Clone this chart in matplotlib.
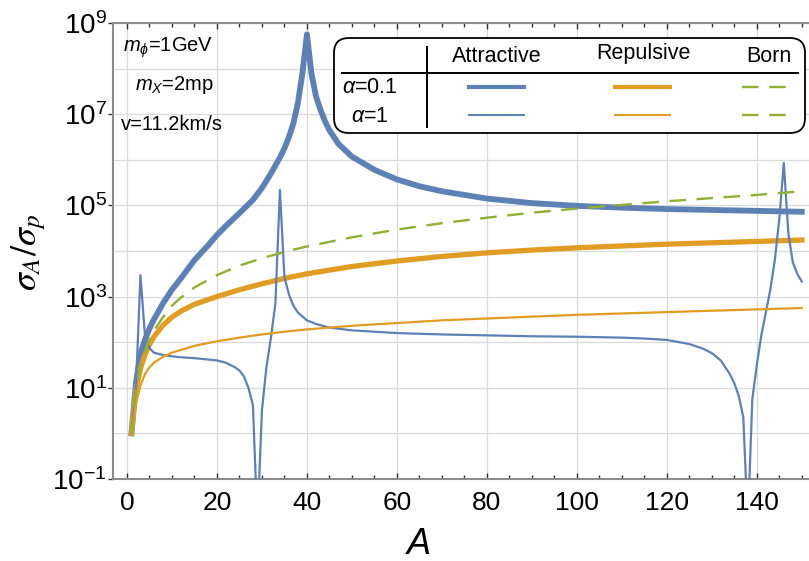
import numpy as np
import matplotlib
matplotlib.use('Agg')
import matplotlib.pyplot as plt
from matplotlib.lines import Line2D
from matplotlib.patches import FancyBboxPatch
from matplotlib.ticker import FixedLocator, MultipleLocator, NullLocator, FuncFormatter

plt.rcParams['font.family'] = ['Liberation Sans', 'DejaVu Sans']
plt.rcParams['mathtext.fontset'] = 'custom'
plt.rcParams['mathtext.rm'] = 'Liberation Sans'
plt.rcParams['mathtext.it'] = 'Liberation Sans:italic'
plt.rcParams['mathtext.bf'] = 'Liberation Sans:bold'

# --- datos (log10 de sigma_A/sigma_p) ---
A_att01 = [1, 2, 3, 4, 5, 6, 8, 10, 12, 15, 18, 20, 22, 25, 28, 30, 32, 34, 35, 36, 37, 38, 39,
           40, 41, 42, 43, 44, 45, 47, 50, 55, 60, 65, 70, 80, 90, 100, 110, 120, 130, 140, 150]
log_att01 = [0, 1.1, 1.75, 2.05, 2.3, 2.5, 2.85, 3.15, 3.4, 3.8, 4.12, 4.35, 4.55, 4.83, 5.12, 5.38,
             5.7, 6.05, 6.25, 6.5, 6.8, 7.25, 7.9, 8.75, 7.9, 7.4, 7.1, 6.85, 6.65, 6.35, 6.07,
             5.78, 5.57, 5.42, 5.31, 5.15, 5.05, 4.99, 4.95, 4.92, 4.9, 4.88, 4.86]

A_rep = [1, 2, 3, 4, 5, 6, 8, 10, 12, 15, 20, 25, 30, 35, 40, 50, 60, 70, 80, 90, 100, 110, 120,
         130, 140, 150]
log_rep01 = [0, 0.95, 1.42, 1.72, 1.95, 2.12, 2.37, 2.55, 2.68, 2.83, 3.0, 3.15, 3.28, 3.4, 3.5,
             3.66, 3.78, 3.88, 3.96, 4.02, 4.07, 4.11, 4.15, 4.18, 4.21, 4.24]
log_rep1 = [0, 0.65, 1.05, 1.3, 1.45, 1.55, 1.68, 1.77, 1.83, 1.92, 2.02, 2.1, 2.17, 2.23, 2.28,
            2.36, 2.42, 2.48, 2.52, 2.56, 2.6, 2.63, 2.66, 2.69, 2.72, 2.75]

A_born = [1, 2, 3, 4, 5, 6, 8, 10, 12, 15, 20, 25, 30, 35, 40, 50, 60, 70, 80, 90, 100, 110, 120,
          130, 140, 150]
log_born = [0, 0.95, 1.47, 1.8, 2.05, 2.25, 2.55, 2.8, 2.98, 3.2, 3.47, 3.68, 3.84, 3.98, 4.1, 4.3,
            4.47, 4.61, 4.73, 4.84, 4.93, 5.01, 5.09, 5.16, 5.23, 5.31]

A_att1 = [1, 2, 3, 4, 5, 6, 8, 10, 12, 15, 18, 20, 22, 24, 25, 26, 27, 28, 29, 30, 31, 32, 33, 34,
          35, 36, 37, 38, 40, 42, 45, 50, 60, 70, 80, 90, 100, 110, 115, 120, 125, 128, 130, 132,
          134, 135, 136, 137, 138, 139, 140, 141, 142, 143, 144, 145, 146, 147, 148, 149, 150]
log_att1 = [0, 1.0, 3.47, 2.15, 1.87, 1.77, 1.72, 1.69, 1.67, 1.65, 1.62, 1.6, 1.55, 1.45, 1.38,
            1.25, 1.0, 0.62, -2.0, 0.5, 1.45, 2.1, 2.85, 5.34, 3.43, 3.05, 2.8, 2.65, 2.48, 2.4,
            2.32, 2.26, 2.2, 2.17, 2.15, 2.13, 2.12, 2.1, 2.08, 2.05, 1.96, 1.86, 1.76, 1.6, 1.3,
            1.1, 0.82, 0.35, -2.0, 0.75, 1.5, 2.15, 2.65, 3.15, 3.8, 4.7, 5.93, 4.4, 3.75, 3.5, 3.33]

x_ticks = [0, 20, 40, 60, 80, 100, 120, 140]
y_exps = [-1, 1, 3, 5, 7, 9]

azul = '#5E81B5'
naranja = '#E19C24'
verde = '#8FB032'

W, H = 809, 561
fig = plt.figure(figsize=(W / 100, H / 100), dpi=100)
ax = fig.add_axes([113 / W, 1 - 479 / H, 1 - 113 / W, (479 - 23) / H])


def pulg(x, y):
    # pixeles de la imagen -> pulgadas de la figura
    return x / 100, (H - y) / 100


# rejilla
for k in range(-1, 10):
    ax.axhline(10.0 ** k, color='#dadada', lw=0.9, zorder=0)
for xv in x_ticks:
    ax.axvline(xv, color='#dadada', lw=0.9, zorder=0)

ax.plot(A_att01, 10 ** np.array(log_att01), color=azul, lw=4.2, zorder=3)
ax.plot(A_rep, 10 ** np.array(log_rep01), color=naranja, lw=3.8, zorder=3)
ax.plot(A_att1, 10 ** np.array(log_att1), color=azul, lw=1.6, zorder=4)
ax.plot(A_rep, 10 ** np.array(log_rep1), color=naranja, lw=1.6, zorder=4)
ax.plot(A_born, 10 ** np.array(log_born), color=verde, lw=1.7, dashes=(7, 4.5), zorder=5)

ax.set_yscale('log')
ax.set_xlim(-3.1, 151.6)
ax.set_ylim(0.1, 1e9)

ax.xaxis.set_major_locator(FixedLocator(x_ticks))
ax.xaxis.set_minor_locator(MultipleLocator(5))
ax.yaxis.set_major_locator(FixedLocator([10.0 ** k for k in y_exps]))
ax.yaxis.set_minor_locator(NullLocator())
ax.yaxis.set_major_formatter(FuncFormatter(lambda v, p: r'$10^{%d}$' % round(np.log10(v))))

ax.tick_params(axis='x', which='major', direction='in', length=4.5, width=1, top=True,
               labelsize=19, pad=9, color='#333333')
ax.tick_params(axis='x', which='minor', direction='in', length=3, width=1, top=True, color='#333333')
ax.tick_params(axis='y', which='major', direction='out', length=3.5, width=1, right=False,
               labelsize=20, pad=1, color='#333333')

ax.spines['right'].set_visible(False)
for s in ['left', 'bottom', 'top']:
    ax.spines[s].set_color('#8c8c8c')
    ax.spines[s].set_linewidth(1.5)

# etiquetas de los ejes
fig.text(29 / W, 1 - 253 / H, r'$\sigma_A/\sigma_p$', rotation=90, ha='center', va='center',
         fontsize=26, math_fontfamily='stix')
fig.text(419 / W, 1 - 545 / H, 'A', style='italic', fontsize=26, ha='center', va='center')

# parametros
fig.text(123 / W, 1 - 48 / H, r'$m_{\phi}$=1GeV', fontsize=14.5, va='center')
fig.text(135 / W, 1 - 85 / H, r'$m_X$=2mp', fontsize=14.5, va='center')
fig.text(121 / W, 1 - 124 / H, 'v=11.2km/s', fontsize=14.5, va='center')

# leyenda en forma de tabla
x0, y0 = pulg(334, 133)
caja = FancyBboxPatch((x0, y0), (805 - 334) / 100, (133 - 38) / 100,
                      boxstyle='round,pad=0,rounding_size=0.15', transform=fig.dpi_scale_trans,
                      fc='white', ec='black', lw=1.3)
fig.add_artist(caja)
fig.add_artist(Line2D([427 / 100] * 2, [(H - 47) / 100, (H - 127) / 100],
                      transform=fig.dpi_scale_trans, color='black', lw=1.4))
fig.add_artist(Line2D([342 / 100, 798 / 100], [(H - 73) / 100] * 2,
                      transform=fig.dpi_scale_trans, color='black', lw=1.4))

for txt, cx, cy in [('Attractive', 497, 57), ('Repulsive', 643, 54), ('Born', 769, 57)]:
    fig.text(*pulg(cx, cy), txt, transform=fig.dpi_scale_trans, ha='center', va='center',
             fontsize=15.5)
fig.text(*pulg(370, 88), r'$\alpha$=0.1', transform=fig.dpi_scale_trans, ha='center',
         va='center', fontsize=15.5)
fig.text(*pulg(370, 116), r'$\alpha$=1', transform=fig.dpi_scale_trans, ha='center',
         va='center', fontsize=15.5)

for fila_y, grueso in [(87, True), (115, False)]:
    yy = [(H - fila_y) / 100] * 2
    fig.add_artist(Line2D([469 / 100, 524 / 100], yy, transform=fig.dpi_scale_trans,
                          color=azul, lw=3.0 if grueso else 1.5))
    fig.add_artist(Line2D([615 / 100, 670 / 100], yy, transform=fig.dpi_scale_trans,
                          color=naranja, lw=3.0 if grueso else 1.5))
    fig.add_artist(Line2D([742 / 100, 792 / 100], yy, transform=fig.dpi_scale_trans,
                          color=verde, lw=1.7, dashes=(7, 4.5)))

fig.savefig('out.png', dpi=100)
